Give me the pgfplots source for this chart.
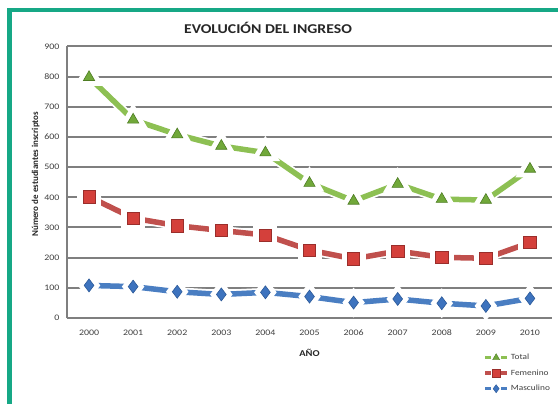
\documentclass[border=0pt]{standalone}
\usepackage{fontspec}
\setmainfont{Carlito}[FakeStretch=1.17]
\newfontfamily\plainfont{Carlito}
\usepackage{pgfplots}
\pgfplotsset{compat=1.18}
\definecolor{frame}{HTML}{16A886}
\definecolor{gtot}{HTML}{8DC053}
\definecolor{gtotm}{HTML}{71A83A}
\definecolor{gtote}{HTML}{4E7D23}
\definecolor{rfem}{HTML}{C0504D}
\definecolor{rfemm}{HTML}{D4403B}
\definecolor{rfeme}{HTML}{9A2E2B}
\definecolor{bmas}{HTML}{4A7EC2}
\definecolor{bmasm}{HTML}{3D73BE}
\definecolor{bmase}{HTML}{2C5A99}
\definecolor{gridc}{HTML}{7F7F7F}
\definecolor{tickc}{HTML}{404040}
\begin{document}
\begin{tikzpicture}
\useasboundingbox (0,0) rectangle (558bp,404bp);
\fill[white] (0,0) rectangle (558bp,404bp);
\draw[frame, line width=4.5bp] (9.5bp,-20bp) -- (9.5bp,394bp) -- (600bp,394bp);
\node[font=\fontsize{13.5}{15}\selectfont\bfseries, text=black!85] at (268bp,376bp) {EVOLUCIÓN DEL INGRESO};
\begin{axis}[
  at={(67bp,86bp)}, anchor=south west,
  scale only axis, width=485bp, height=271.5bp,
  xmin=-0.5, xmax=10.5, ymin=0, ymax=900,
  xtick={0,...,10},
  xticklabels={2000,2001,2002,2003,2004,2005,2006,2007,2008,2009,2010},
  ytick={0,100,...,900},
  major tick length=0pt,
  ymajorgrids, grid style={gridc, line width=2bp},
  axis line style={gridc, line width=1.6bp},
  axis x line*=bottom, axis y line*=left,
  /pgf/number format/assume math mode=true,
  tick label style={font=\fontsize{8.5}{9}\selectfont, text=tickc},
  xticklabel style={yshift=-8bp},
  yticklabel style={xshift=-4bp},
  xlabel={AÑO}, xlabel style={font=\fontsize{9}{11}\selectfont\bfseries, text=black!85, yshift=-7bp},
  ylabel={Número de estudiantes inscriptos}, ylabel style={font=\plainfont\fontsize{9}{10}\selectfont\bfseries, text=black!85, yshift=-2bp, xshift=8bp},
  legend style={at={(0.852,-0.118)}, anchor=north west, draw=none, fill=none,
    font=\fontsize{8}{9}\selectfont, text=tickc, row sep=4.5bp,
    /tikz/every even column/.append style={column sep=0bp}},
  legend cell align=left,
  legend image code/.code={\draw[line width=3.5bp] (0bp,0bp) -- (6bp,0bp) (16bp,0bp) -- (22bp,0bp); \draw[only marks, every mark/.append style={scale=0.62, line width=0.4bp}] plot coordinates {(11bp,0bp)};},
]
% halos
\addplot[white, line width=9bp, forget plot, mark=triangle*, mark size=8bp] coordinates {(0,798) (1,657) (2,608) (3,570) (4,548) (5,447) (6,388) (7,444) (8,394) (9,391) (10,494)};
\addplot[white, line width=9bp, forget plot, mark=square*, mark size=7.5bp] coordinates {(0,402) (1,331) (2,306) (3,290) (4,275) (5,225) (6,196) (7,222) (8,201) (9,198) (10,250)};
\addplot[white, line width=9bp, forget plot, mark=diamond*, mark size=7.5bp] coordinates {(0,108) (1,104) (2,87) (3,78) (4,85) (5,71) (6,51) (7,63) (8,49) (9,40) (10,65)};
% series
\addplot[gtot, line width=5.5bp, mark=triangle*, mark size=6.5bp, mark options={fill=gtotm, draw=gtote, line width=0.6bp, solid}] coordinates {(0,798) (1,657) (2,608) (3,570) (4,548) (5,447) (6,388) (7,444) (8,394) (9,391) (10,494)};
\addlegendentry{Total}
\addplot[rfem, line width=5.5bp, mark=square*, mark size=6.2bp, mark options={fill=rfemm, draw=rfeme, line width=0.6bp, solid}] coordinates {(0,402) (1,331) (2,306) (3,290) (4,275) (5,225) (6,196) (7,222) (8,201) (9,198) (10,250)};
\addlegendentry{Femenino}
\addplot[bmas, line width=5.5bp, mark=diamond*, mark size=6.5bp, mark options={fill=bmasm, draw=bmase, line width=0.6bp, solid}] coordinates {(0,108) (1,104) (2,87) (3,78) (4,85) (5,71) (6,51) (7,63) (8,49) (9,40) (10,65)};
\addlegendentry{Masculino}
\end{axis}
\end{tikzpicture}
\end{document}
